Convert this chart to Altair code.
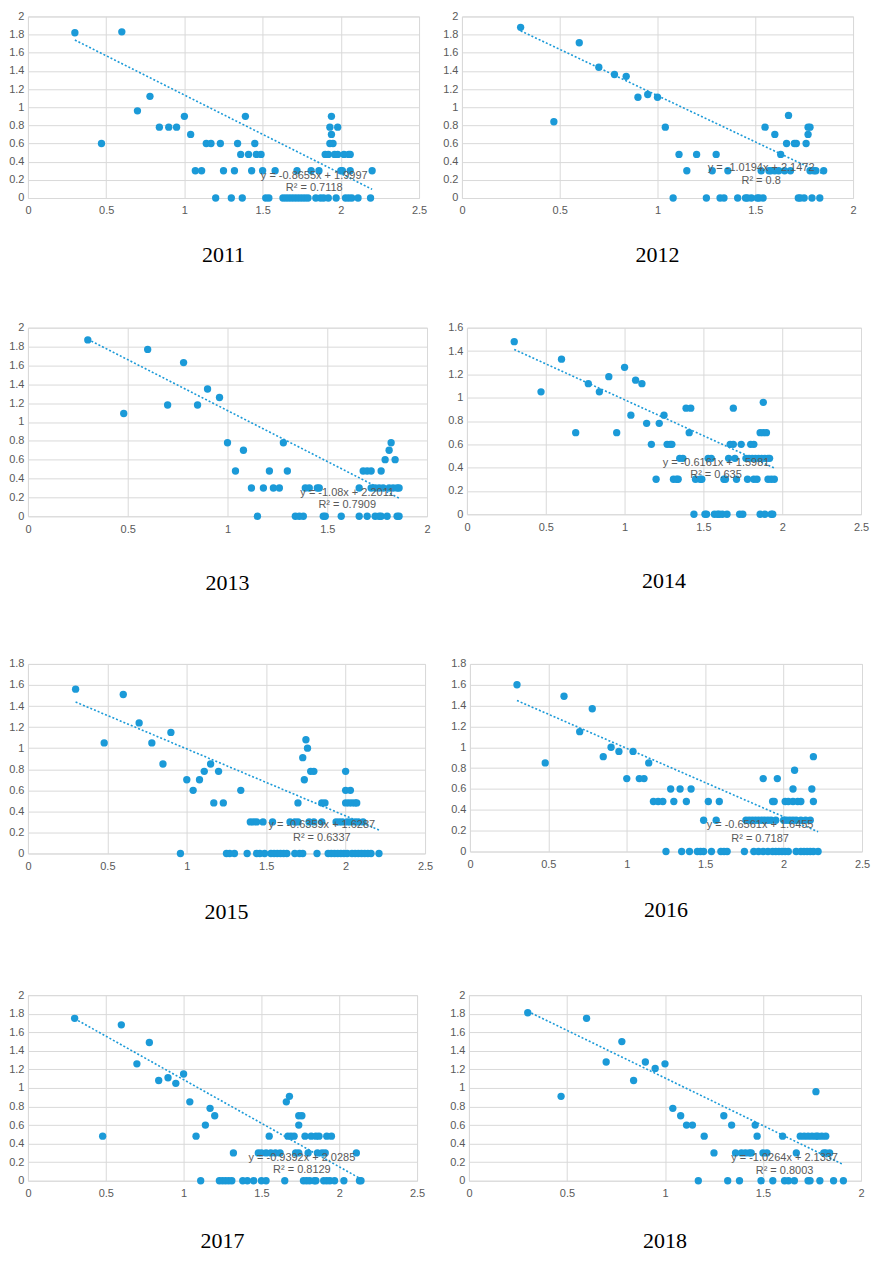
import altair as alt
import pandas as pd

YEARS = ["2011", "2012", "2013", "2014", "2015", "2016", "2017", "2018"]

P2011 = [(0.30,1.82),(0.60,1.83),(0.47,0.60),(0.70,0.96),(0.78,1.12),(0.84,0.78),(0.90,0.78),(0.95,0.78),
         (1.00,0.90),(1.04,0.70),(1.07,0.30),(1.11,0.30),(1.14,0.60),(1.17,0.60),(1.20,0),(1.23,0.60),
         (1.25,0.30),(1.30,0),(1.32,0.30),(1.34,0.60),(1.36,0.48),(1.37,0),(1.39,0.90),(1.41,0.48),
         (1.43,0.30),(1.45,0.60),(1.46,0.48),(1.49,0.48),(1.50,0.30),(1.52,0),(1.54,0),(1.58,0.30),
         (1.63,0),(1.65,0),(1.67,0),(1.69,0),(1.71,0),(1.73,0),(1.75,0),(1.77,0),(1.79,0),(1.72,0.30),
         (1.81,0.30),(1.84,0),(1.87,0),(1.89,0),(1.92,0),(1.86,0.30),(1.90,0.48),(1.92,0.48),(1.93,0.60),
         (1.95,0.60),(1.94,0.90),(1.93,0.78),(1.94,0.70),(1.97,0),(1.96,0.48),(1.98,0.48),(2.02,0.48),
         (2.05,0.48),(1.98,0.78),(2.00,0.30),(2.01,0.30),(2.03,0),(2.05,0),(2.07,0),(2.11,0),(2.06,0.30),
         (2.06,0.48),(2.19,0),(2.20,0.30)]

P2012 = [(0.30,1.88),(0.60,1.71),(0.47,0.84),(0.70,1.44),(0.78,1.36),(0.84,1.34),(0.90,1.11),(0.95,1.14),
         (1.00,1.11),(1.04,0.78),(1.08,0),(1.11,0.48),(1.15,0.30),(1.20,0.48),(1.25,0),(1.28,0.30),
         (1.30,0.48),(1.32,0),(1.34,0),(1.36,0.30),(1.41,0),(1.45,0),(1.46,0),(1.48,0),(1.51,0),(1.52,0),
         (1.54,0),(1.53,0.30),(1.55,0.78),(1.57,0.30),(1.58,0.30),(1.60,0.30),(1.60,0.70),(1.62,0.30),
         (1.63,0.48),(1.65,0.30),(1.66,0.60),(1.67,0.91),(1.68,0.30),(1.70,0.60),(1.71,0.60),(1.72,0),
         (1.73,0),(1.75,0),(1.76,0.60),(1.77,0.78),(1.78,0.78),(1.77,0.70),(1.78,0.30),(1.80,0.30),
         (1.81,0.30),(1.85,0.30),(1.79,0),(1.83,0)]

P2013 = [(0.30,1.87),(0.60,1.77),(0.48,1.09),(0.70,1.18),(0.78,1.63),(0.85,1.18),(0.90,1.35),(0.96,1.26),
         (1.00,0.78),(1.04,0.48),(1.08,0.70),(1.12,0.30),(1.15,0),(1.18,0.30),(1.21,0.48),(1.23,0.30),
         (1.26,0.30),(1.28,0.78),(1.30,0.48),(1.34,0),(1.36,0),(1.38,0),(1.39,0.30),(1.41,0.30),(1.45,0.30),
         (1.46,0.30),(1.48,0),(1.49,0),(1.57,0),(1.66,0),(1.66,0.30),(1.68,0.48),(1.70,0.48),(1.72,0.48),
         (1.70,0),(1.72,0.30),(1.74,0.30),(1.76,0.30),(1.78,0.30),(1.74,0),(1.76,0),(1.77,0),(1.80,0),
         (1.77,0.48),(1.79,0.60),(1.81,0.70),(1.82,0.78),(1.84,0.60),(1.81,0.30),(1.83,0.30),(1.85,0.30),
         (1.86,0.30),(1.85,0),(1.86,0)]

P2014 = [(0.30,1.48),(0.47,1.05),(0.60,1.33),(0.69,0.70),(0.77,1.12),(0.84,1.05),(0.90,1.18),(0.95,0.70),
         (1.00,1.26),(1.04,0.85),(1.07,1.15),(1.11,1.12),(1.14,0.78),(1.17,0.60),(1.20,0.30),(1.22,0.78),
         (1.25,0.85),(1.27,0.60),(1.29,0.60),(1.30,0.60),(1.31,0.30),(1.33,0.30),(1.34,0.30),(1.35,0.48),
         (1.37,0.48),(1.39,0.91),(1.42,0.91),(1.41,0.70),(1.44,0),(1.45,0.30),(1.48,0.30),(1.49,0.30),
         (1.51,0),(1.52,0),(1.53,0.48),(1.55,0.48),(1.57,0),(1.59,0),(1.60,0),(1.62,0),(1.65,0),(1.63,0.30),
         (1.64,0.30),(1.66,0.48),(1.67,0.60),(1.69,0.60),(1.69,0.91),(1.70,0.48),(1.71,0.30),(1.73,0),
         (1.75,0),(1.74,0.60),(1.77,0.48),(1.79,0.48),(1.81,0.48),(1.83,0.48),(1.85,0.48),(1.87,0.48),
         (1.78,0.30),(1.82,0.30),(1.84,0.30),(1.80,0.60),(1.82,0.60),(1.86,0),(1.86,0.70),(1.88,0.70),
         (1.90,0.70),(1.88,0.96),(1.89,0),(1.93,0),(1.94,0),(1.89,0.48),(1.91,0.48),(1.92,0.48),(1.91,0.30),
         (1.93,0.30),(1.95,0.30)]

P2015 = [(0.30,1.56),(0.60,1.51),(0.48,1.05),(0.70,1.24),(0.78,1.05),(0.85,0.85),(0.90,1.15),(0.96,0),
         (1.00,0.70),(1.04,0.60),(1.08,0.70),(1.11,0.78),(1.15,0.85),(1.17,0.48),(1.20,0.78),(1.23,0.48),
         (1.25,0),(1.27,0),(1.30,0),(1.34,0.60),(1.38,0),(1.40,0.30),(1.42,0.30),(1.44,0.30),(1.44,0),
         (1.46,0),(1.49,0),(1.48,0.30),(1.53,0),(1.55,0),(1.57,0),(1.59,0),(1.61,0),(1.63,0),(1.54,0.30),
         (1.65,0.30),(1.68,0.30),(1.70,0.30),(1.68,0),(1.71,0),(1.73,0),(1.70,0.48),(1.73,0.91),(1.74,0.70),
         (1.75,1.08),(1.76,1.00),(1.77,0.30),(1.80,0.30),(1.78,0.78),(1.80,0.78),(1.82,0),(1.85,0.30),
         (1.85,0.48),(1.87,0.48),(1.89,0),(1.91,0),(1.93,0),(1.95,0),(1.97,0),(1.99,0),(2.01,0),(1.94,0.30),
         (1.96,0.30),(1.98,0.30),(2.00,0.48),(2.02,0.48),(2.04,0.48),(2.06,0.48),(2.07,0.48),(2.00,0.60),
         (2.03,0.60),(2.00,0.78),(2.01,0.30),(2.03,0.30),(2.06,0.30),(2.08,0.30),(2.11,0.30),(2.04,0),
         (2.06,0),(2.08,0),(2.10,0),(2.12,0),(2.14,0),(2.16,0),(2.21,0)]

P2016 = [(0.30,1.60),(0.60,1.49),(0.48,0.85),(0.70,1.15),(0.78,1.37),(0.85,0.91),(0.90,1.00),(0.95,0.96),
         (1.00,0.70),(1.04,0.96),(1.08,0.70),(1.11,0.70),(1.14,0.85),(1.17,0.48),(1.20,0.48),(1.23,0.48),
         (1.25,0),(1.28,0.60),(1.30,0.48),(1.34,0.60),(1.35,0),(1.38,0.48),(1.40,0),(1.41,0.60),(1.45,0),
         (1.47,0),(1.49,0),(1.54,0),(1.49,0.30),(1.52,0.48),(1.57,0.30),(1.59,0.48),(1.60,0),(1.62,0),
         (1.64,0),(1.75,0),(1.76,0.30),(1.78,0.30),(1.80,0.30),(1.82,0.30),(1.84,0.30),(1.86,0.30),
         (1.88,0.30),(1.90,0.30),(1.92,0.30),(1.95,0.30),(1.81,0),(1.84,0),(1.87,0),(1.90,0),(1.93,0),
         (1.95,0),(1.97,0),(1.99,0),(2.01,0),(2.03,0),(1.87,0.70),(1.93,0.48),(1.94,0.48),(1.96,0.70),
         (2.00,0.30),(2.02,0.30),(2.04,0.30),(2.06,0.30),(2.08,0.30),(2.11,0.30),(2.14,0.30),(2.17,0.30),
         (2.01,0.48),(2.03,0.48),(2.06,0.48),(2.09,0.48),(2.11,0.48),(2.06,0.60),(2.07,0.78),(2.08,0),
         (2.11,0),(2.13,0),(2.15,0),(2.17,0),(2.19,0),(2.22,0),(2.18,0.60),(2.19,0.48),(2.19,0.91)]

P2017 = [(0.30,1.75),(0.60,1.68),(0.48,0.48),(0.70,1.26),(0.78,1.49),(0.84,1.08),(0.90,1.11),(0.95,1.05),
         (1.00,1.15),(1.04,0.85),(1.08,0.48),(1.11,0),(1.14,0.60),(1.17,0.78),(1.20,0.70),(1.23,0),
         (1.25,0),(1.27,0),(1.29,0),(1.31,0),(1.32,0.30),(1.38,0),(1.41,0),(1.45,0),(1.48,0.30),(1.50,0.30),
         (1.53,0.30),(1.50,0),(1.53,0),(1.55,0.48),(1.56,0.30),(1.59,0.30),(1.62,0.30),(1.65,0),(1.66,0.85),
         (1.68,0.91),(1.67,0.48),(1.69,0.48),(1.71,0.48),(1.72,0.30),(1.74,0.30),(1.74,0.60),(1.74,0.70),
         (1.76,0.70),(1.77,0),(1.79,0),(1.81,0),(1.84,0),(1.85,0),(1.78,0.48),(1.82,0.48),(1.85,0.48),
         (1.87,0.48),(1.92,0.48),(1.95,0.48),(1.80,0.30),(1.86,0.30),(1.89,0.30),(1.91,0.30),(1.90,0),
         (1.92,0),(1.94,0),(1.97,0),(2.03,0),(2.11,0.30),(2.13,0),(2.14,0)]

P2018 = [(0.30,1.81),(0.60,1.75),(0.47,0.91),(0.70,1.28),(0.78,1.50),(0.84,1.08),(0.90,1.28),(0.95,1.21),
         (1.00,1.26),(1.04,0.78),(1.08,0.70),(1.11,0.60),(1.14,0.60),(1.17,0),(1.20,0.48),(1.25,0.30),
         (1.30,0.70),(1.32,0),(1.34,0.60),(1.36,0.30),(1.38,0),(1.39,0.30),(1.41,0.30),(1.43,0.30),
         (1.44,0.30),(1.46,0.60),(1.47,0.48),(1.49,0),(1.50,0.30),(1.52,0.30),(1.55,0),(1.60,0.48),(1.61,0),
         (1.63,0),(1.66,0),(1.67,0.30),(1.69,0.48),(1.71,0.48),(1.73,0.48),(1.75,0.48),(1.77,0.48),
         (1.78,0.48),(1.80,0.48),(1.82,0.48),(1.73,0),(1.74,0),(1.77,0.96),(1.79,0),(1.81,0.30),(1.82,0.30),
         (1.84,0.30),(1.86,0),(1.91,0)]

POINTS = [P2011, P2012, P2013, P2014, P2015, P2016, P2017, P2018]

# printed trendline equations and R² values
SLOPE = [-0.8655, -1.0194, -1.08, -0.6161, -0.6359, -0.6561, -0.9392, -1.0264]
INTERCEPT = [1.9997, 2.1472, 2.2011, 1.5981, 1.6287, 1.6455, 2.0285, 2.1337]
EQ_TEXT = ["y = -0.8655x + 1.9997", "y = -1.0194x + 2.1472", "y = -1.08x + 2.2011",
           "y = -0.6161x + 1.5981", "y = -0.6359x + 1.6287", "y = -0.6561x + 1.6455",
           "y = -0.9392x + 2.0285", "y = -1.0264x + 2.1337"]
R2_TEXT = ["R² = 0.7118", "R² = 0.8", "R² = 0.7909", "R² = 0.635",
           "R² = 0.6337", "R² = 0.7187", "R² = 0.8129", "R² = 0.8003"]
# label anchor in data units (equation line, R² line)
EQ_X = [1.83, 1.53, 1.60, 1.58, 1.85, 1.85, 1.76, 1.61]
EQ_Y1 = [0.24, 0.33, 0.25, 0.44, 0.27, 0.25, 0.25, 0.25]
EQ_Y2 = [0.11, 0.19, 0.12, 0.34, 0.15, 0.12, 0.115, 0.11]

X_MAX = [2.5, 2, 2, 2.5, 2.5, 2.5, 2.5, 2]
Y_MAX = [2, 2, 2, 1.6, 1.8, 1.8, 2, 2]
X_TICKS = {2.5: [0, 0.5, 1, 1.5, 2, 2.5], 2: [0, 0.5, 1, 1.5, 2]}
Y_TICKS = {2: [0, 0.2, 0.4, 0.6, 0.8, 1, 1.2, 1.4, 1.6, 1.8, 2],
           1.8: [0, 0.2, 0.4, 0.6, 0.8, 1, 1.2, 1.4, 1.6, 1.8],
           1.6: [0, 0.2, 0.4, 0.6, 0.8, 1, 1.2, 1.4, 1.6]}

PANEL_W = [392, 392, 400, 395, 398, 393, 390, 393]
PANEL_H = [182, 182, 189, 187, 190, 188, 186, 186]
TITLE_OFFSET = [29, 29, 39, 39, 31, 31, 32, 32]
ROW_HSPACING = [14, 16, 16, 23]
ROW_VSPACING = [54, 62, 64]

BLUE = "#1B9AD8"
GREY = "#595959"
GRID = "#D9D9D9"
FONT = "Liberation Sans"


def panel(i):
    pts = pd.DataFrame(POINTS[i], columns=["x", "y"])
    xs = [float(pts.x.min()), float(pts.x.max())]
    trend = pd.DataFrame({"x": xs, "y": [SLOPE[i] * v + INTERCEPT[i] for v in xs]})
    ann = pd.DataFrame({"x": [EQ_X[i], EQ_X[i]], "y": [EQ_Y1[i], EQ_Y2[i]],
                        "t": [EQ_TEXT[i], R2_TEXT[i]]})

    common_axis = dict(grid=True, gridColor=GRID, gridWidth=1, domain=False, ticks=False,
                       labelColor=GREY, labelFont=FONT, labelFontSize=11, title=None,
                       labelFlush=False, labelOverlap=False, format="~g")
    xv = X_TICKS[X_MAX[i]]
    yv = Y_TICKS[Y_MAX[i]]
    xenc = alt.X("x:Q", scale=alt.Scale(domain=[0, X_MAX[i]], nice=False, zero=True),
                 axis=alt.Axis(values=xv, tickCount=len(xv), labelPadding=7, **common_axis))
    yenc = alt.Y("y:Q", scale=alt.Scale(domain=[0, Y_MAX[i]], nice=False, zero=True),
                 axis=alt.Axis(values=yv, tickCount=len(yv), labelPadding=4, **common_axis))

    points = alt.Chart(pts).mark_circle(size=54, color=BLUE, opacity=1).encode(x=xenc, y=yenc)
    line = alt.Chart(trend).mark_line(color=BLUE, strokeDash=[2, 2], strokeWidth=1.6).encode(
        x="x:Q", y="y:Q")
    text = alt.Chart(ann).mark_text(font=FONT, fontSize=11, color=GREY, align="center",
                                    baseline="middle").encode(x="x:Q", y="y:Q", text="t:N")
    return alt.layer(points, line, text).properties(
        width=PANEL_W[i], height=PANEL_H[i],
        title=alt.TitleParams(text=YEARS[i], orient="bottom", font="Liberation Serif",
                              fontSize=22, fontWeight="normal", color="black",
                              offset=TITLE_OFFSET[i], anchor="middle"))


rows = [alt.hconcat(panel(2 * r), panel(2 * r + 1), spacing=ROW_HSPACING[r]) for r in range(4)]
lower = alt.vconcat(rows[2], rows[3], spacing=ROW_VSPACING[2])
middle = alt.vconcat(rows[1], lower, spacing=ROW_VSPACING[1])
chart = alt.vconcat(rows[0], middle, spacing=ROW_VSPACING[0]).properties(
    padding={"left": 0, "top": 0, "right": 0, "bottom": 0}
).configure_view(strokeWidth=0).configure(background="white")

chart.save("out.html", embed_options={"renderer": "svg", "actions": False})
